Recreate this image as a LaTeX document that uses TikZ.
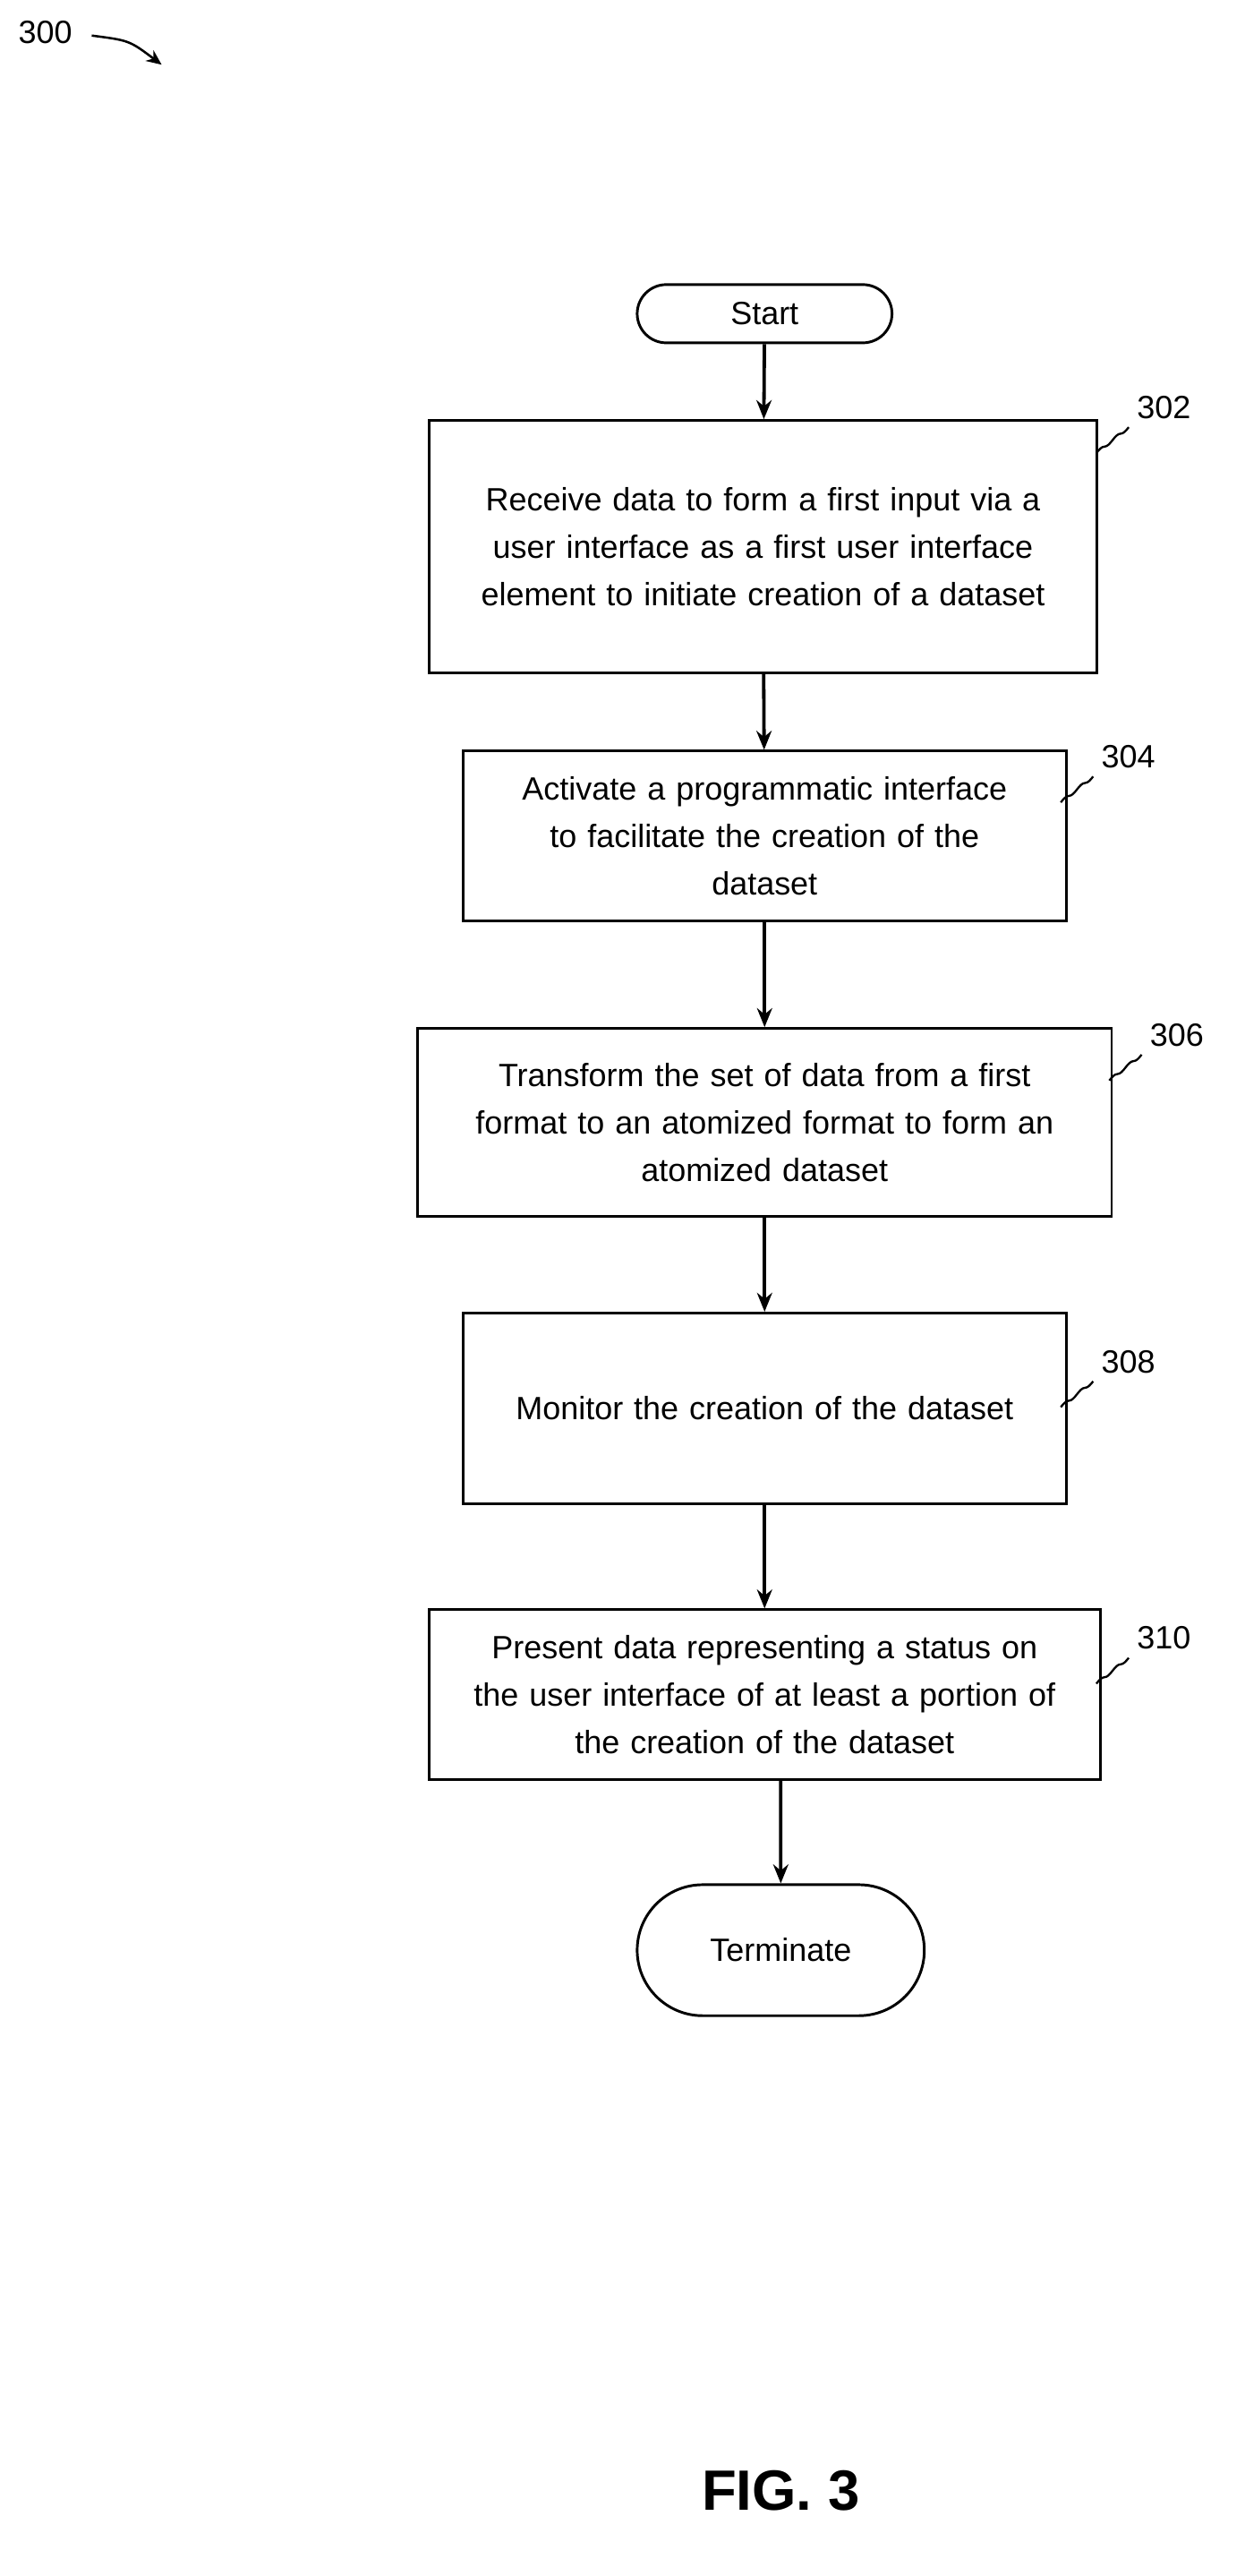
\documentclass[tikz,border=0pt]{standalone}
\usepackage{fontspec}
\setmainfont{Liberation Sans}
\usetikzlibrary{arrows.meta,shapes,positioning}
\tikzset{
  basic/.style = {draw, line width=1.4pt, align=center, inner sep=4pt,
                  font=\fontsize{17}{25}\selectfont},
  block/.style = {basic, rectangle},
  term/.style  = {basic, rounded rectangle},
  ref/.style   = {font=\fontsize{17}{19}\selectfont},
  flow/.style  = {-{Stealth[length=10pt,width=8pt]}, line width=1.8pt}
}
\begin{document}
\begin{tikzpicture}[x=0.03cm, y=-0.03cm]
\useasboundingbox (0,0) rectangle (770,1593);

% terminals and steps
\node[term, minimum width=167*0.03cm, minimum height=36*0.03cm] (start) at (473,194) {Start};
\node[block, text width=404*0.03cm, minimum height=156*0.03cm] (s302) at (472,338)
  {Receive data to form a first input via a\\ user interface as a first user interface\\ element to initiate creation of a dataset};
\node[block, text width=364*0.03cm, minimum height=105*0.03cm] (s304) at (473,517)
  {Activate a programmatic interface\\ to facilitate the creation of the\\ dataset};
\node[block, text width=420*0.03cm, minimum height=116*0.03cm] (s306) at (473,694)
  {Transform the set of data from a first\\ format to an atomized format to form an\\ atomized dataset};
\node[block, text width=364*0.03cm, minimum height=118*0.03cm] (s308) at (473,871)
  {Monitor the creation of the dataset};
\node[block, text width=406*0.03cm, minimum height=105*0.03cm] (s310) at (473,1048)
  {Present data representing a status on\\ the user interface of at least a portion of\\ the creation of the dataset};
\node[term, minimum width=187*0.03cm, minimum height=81*0.03cm] (stop) at (483,1206) {Terminate};

% connectors
\draw[flow] (start) -- (s302);
\draw[flow] (s302) -- (s304);
\draw[flow] (s304) -- (s306);
\draw[flow] (s306) -- (s308);
\draw[flow] (s308) -- (s310);
\draw[flow] (s310.south -| stop) -- (stop);

% reference numerals
\node[ref] (n300) at (28,20) {300};
\coordinate (a300) at (100,40);
\draw[-{Stealth[length=8pt,width=7pt]}, line width=1.2pt] (n300.east) ++(8,2) .. controls (80,25) .. (a300);
\foreach \name/\x/\y in {302/720/252, 304/698/468, 306/728/640, 308/698/842, 310/720/1013}{
  \node[ref] (r\name) at (\x,\y) {\name};
  \draw[line width=1.1pt] (r\name.south west) ++(-1,1) sin ++(-5,4) cos ++(-5,4) sin ++(-5,4) cos ++(-5,4);
}

\node[font=\bfseries\fontsize{30}{34}\selectfont] (fig) at (483,1540) {FIG. 3};
\end{tikzpicture}
\end{document}
